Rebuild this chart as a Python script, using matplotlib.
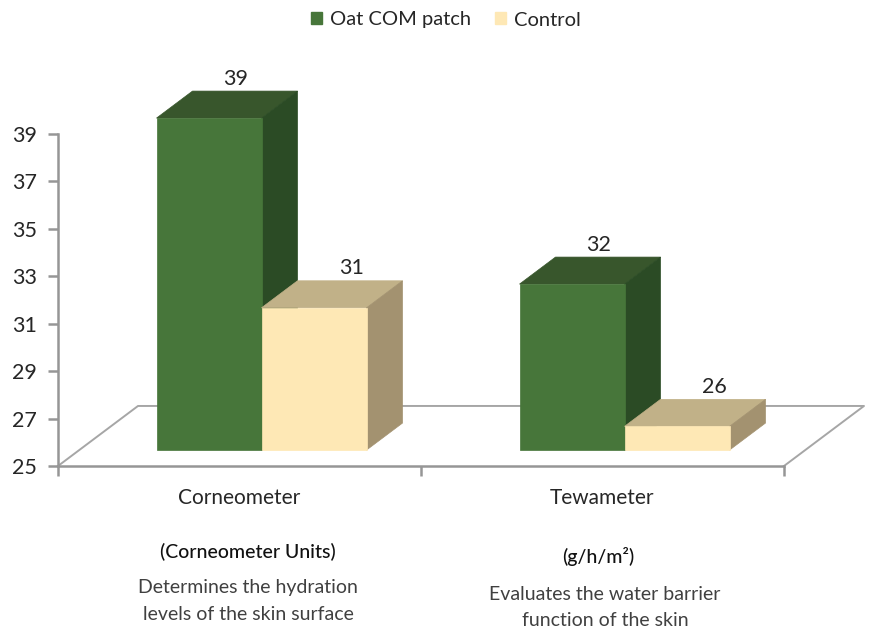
import matplotlib
matplotlib.use("Agg")

import matplotlib.pyplot as plt
from matplotlib.patches import Polygon

plt.rcParams["font.family"] = ["Lato", "DejaVu Sans"]

categories = ["Corneometer", "Tewameter"]
series_names = ["Oat COM patch", "Control"]
oat_values = [39, 32]
control_values = [31, 26]
y_ticks = [25, 27, 29, 31, 33, 35, 37, 39]

W, H = 872, 632
GREEN = ("#47763a", "#38562c", "#2b4b25")
CREAM = ("#fee8b5", "#c1b188", "#a39270")
GREY = "#969696"
TEXT = "#262626"

# depth of the 3d floor, in data units
DEPTH_X = 80 / 363
DEPTH_Y = 60 / 23.7
BAR_FRONT = 0.265
BAR_BACK = 0.715
BAR_W = 105 / 363
CENTER_SHIFT = 22 / 363

fig = plt.figure(figsize=(W / 100, H / 100), dpi=100)
ax = fig.add_axes([58 / W, 1 - 466 / H, (784 - 58) / W, (466 - 134) / H])
ax.set_xlim(-0.5, 1.5)
ax.set_ylim(25, 39)
ax.patch.set_alpha(0)

# floor
x0, x1 = -0.5, 1.5
ax.plot([x0, x0 + DEPTH_X, x1 + DEPTH_X, x1], [25, 25 + DEPTH_Y, 25 + DEPTH_Y, 25],
        color="#a6a6a6", lw=1.4, clip_on=False, zorder=1)


def draw_bar(x, value, colors, z, label_shift):
    bottom = 25 + BAR_FRONT * DEPTH_Y
    top_y = value + BAR_FRONT * DEPTH_Y
    left = x + CENTER_SHIFT
    right = left + BAR_W
    dx = (BAR_BACK - BAR_FRONT) * DEPTH_X
    dy = (BAR_BACK - BAR_FRONT) * DEPTH_Y
    ax.bar(left, value - 25, bottom=bottom, width=BAR_W, align="edge",
           color=colors[0], edgecolor=colors[0], lw=0.5, zorder=z + 1, clip_on=False)
    top = [(left, top_y), (left + dx, top_y + dy), (right + dx, top_y + dy), (right, top_y)]
    side = [(right, bottom), (right + dx, bottom + dy), (right + dx, top_y + dy), (right, top_y)]
    ax.add_patch(Polygon(top, color=colors[1], lw=0.5, zorder=z, clip_on=False))
    ax.add_patch(Polygon(side, color=colors[2], lw=0.5, zorder=z, clip_on=False))
    ax.text(left + BAR_W / 2 + dx + label_shift, top_y + dy + 0.1, str(value),
            ha="center", va="bottom", fontsize=15.5, color=TEXT, zorder=10)


for i in range(len(categories)):
    draw_bar(i - BAR_W, oat_values[i], GREEN, 3, -0.027)
    draw_bar(i, control_values[i], CREAM, 5, 0.005)

for side in ["top", "right"]:
    ax.spines[side].set_visible(False)
for side in ["left", "bottom"]:
    ax.spines[side].set_color(GREY)
    ax.spines[side].set_linewidth(1.8)
    ax.spines[side].set_zorder(2)

ax.set_yticks(y_ticks)
ax.set_xticks([-0.5, 0.5, 1.5])
ax.set_xticklabels([])
ax.set_xticks([0, 1], labels=categories, minor=True)
ax.tick_params(axis="y", length=7, width=1.8, color=GREY, labelsize=15.5, labelcolor=TEXT, pad=8)
ax.tick_params(axis="x", which="major", length=7, width=1.8, color=GREY)
ax.tick_params(axis="x", which="minor", length=0, labelsize=15, labelcolor=TEXT, pad=16)

# legend
handles = [plt.Rectangle((0, 0), 1, 1, color=GREEN[0]), plt.Rectangle((0, 0), 1, 1, color=CREAM[0])]
fig.legend(handles, series_names, loc="center", bbox_to_anchor=(446 / W, 1 - 20 / H), ncol=2,
           frameon=False, fontsize=14.5, handlelength=0.55, handleheight=0.55,
           handletextpad=0.4, columnspacing=1.2, labelcolor=TEXT)

# notes under the axis
notes = [
    ("(Corneometer Units)", 248, 552, "medium", "#111111"),
    ("Determines the hydration", 248, 587, "normal", "#404040"),
    ("levels of the skin surface", 248, 614, "normal", "#404040"),
    ("(g/h/m²)", 598, 557, "medium", "#111111"),
    ("Evaluates the water barrier", 605, 595, "normal", "#404040"),
    ("function of the skin", 605, 621, "normal", "#404040"),
]
for label, px, py, weight, color in notes:
    fig.text(px / W, 1 - py / H, label, ha="center", va="center", fontsize=14, fontweight=weight, color=color)

fig.savefig("out.png", dpi=100)
